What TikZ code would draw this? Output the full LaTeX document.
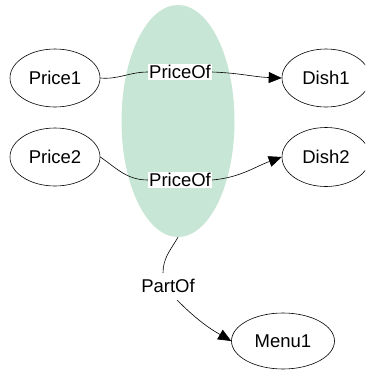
\documentclass[tikz,border=0pt]{standalone}
\usepackage{fontspec}
\setmainfont{Liberation Sans}
\usetikzlibrary{shapes.geometric,arrows.meta}
\definecolor{groupgreen}{RGB}{200,230,213}
\tikzset{
  entity/.style={draw, ellipse, line width=0.6pt, inner sep=0pt, font=\fontsize{18.5}{20}\selectfont},
  rel/.style={fill=white, inner sep=1pt, font=\fontsize{18.5}{20}\selectfont},
  edge/.style={line width=0.6pt},
  tip/.style={-{Triangle[length=13pt,width=11pt]}}
}
\begin{document}
\begin{tikzpicture}[x=1pt,y=-1pt]
\useasboundingbox (0,0) rectangle (365,370);
\begin{scope}
\clip (0,0) rectangle (365,370);
% highlighted group of facts
\node[ellipse, fill=groupgreen, minimum width=113, minimum height=232, inner sep=0pt] (grp) at (178,121) {};
% entities
\node[entity, minimum width=90, minimum height=58] (p1) at (55,78) {Price1};
\node[entity, minimum width=90, minimum height=58] (p2) at (55,157) {Price2};
\node[entity, minimum width=88, minimum height=58] (d1) at (326,78) {Dish1};
\node[entity, minimum width=88, minimum height=59] (d2) at (326,157) {Dish2};
\node[entity, minimum width=103, minimum height=56] (m1) at (283,341) {Menu1};
\end{scope}
% relation labels
\node[rel] (r1) at (180,72) {PriceOf};
\node[rel] (r2) at (180,180) {PriceOf};
\node[inner sep=1pt, font=\fontsize{18.5}{20}\selectfont] (r3) at (168,286) {PartOf};
\coordinate (r3in) at (163,273);
\coordinate (r3out) at (177,300);
% connectors
\draw[edge] (p1.east) to[out=-5, in=180] (r1.west);
\draw[edge, tip] (r1.east) to[out=-2, in=178] (d1.west);
\draw[edge] (p2.east) to[out=-35, in=180] (r2.west);
\draw[edge, tip] (r2.east) to[out=5, in=200] (d2.west);
\draw[edge] (grp.south) to[out=240, in=90] (r3in);
\draw[edge, tip] (r3out) to[out=-45, in=150] (m1.west);
\end{tikzpicture}
\end{document}
